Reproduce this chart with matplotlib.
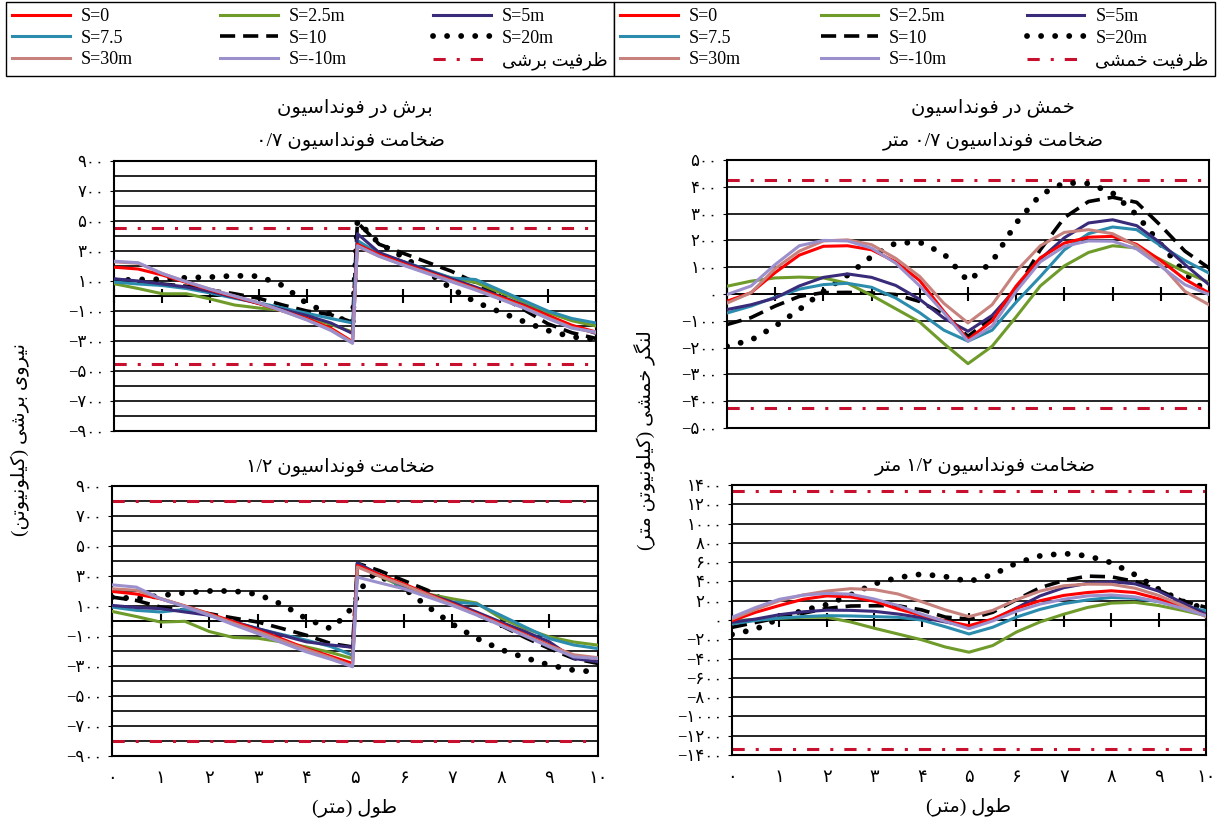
import re
import matplotlib
matplotlib.use('Agg')
import matplotlib.pyplot as plt
from matplotlib.ticker import FuncFormatter

plt.rcParams['font.family'] = ['Liberation Serif', 'DejaVu Sans']

# ---------------- data ----------------
labels = ['S=0', 'S=2.5m', 'S=5m', 'S=7.5', 'S=10', 'S=20m', 'S=30m', 'S=-10m']

x_shear = [0, 0.5, 1, 1.5, 2, 2.5, 3, 3.5, 4, 4.5, 4.95, 5.05, 5.5, 6, 6.5, 7, 7.5, 8, 8.5, 9, 9.5, 10]
x_bend = [0, 0.5, 1, 1.5, 2, 2.5, 3, 3.5, 4, 4.5, 5, 5.5, 6, 6.5, 7, 7.5, 8, 8.5, 9, 9.5, 10]
x_sh12_dot = [0, 0.5, 1, 1.5, 2, 2.5, 3, 3.5, 4, 4.5, 4.75, 4.9, 5.2, 5.4, 6, 6.5, 7, 7.5, 8, 8.5, 9, 9.5, 10]

# shear, foundation 0.7 m
sh07_s0 = [192, 180, 140, 90, 40, -5, -50, -100, -150, -215, -305, 345, 275, 215, 160, 105, 50, -5, -65, -130, -195, -240]
sh07_s25 = [82, 50, 15, 15, -20, -60, -80, -95, -140, -190, -240, 360, 280, 225, 170, 120, 90, 25, -40, -110, -165, -200]
sh07_s5 = [115, 100, 80, 60, 30, -10, -50, -90, -130, -180, -250, 415, 290, 230, 170, 115, 60, 0, -60, -130, -200, -250]
sh07_s75 = [93, 80, 70, 50, 20, -15, -45, -80, -115, -150, -180, 370, 280, 230, 175, 120, 110, 40, -30, -100, -150, -180]
sh07_s10 = [110, 95, 80, 65, 40, 15, -15, -60, -100, -125, -175, 490, 345, 285, 225, 165, 90, 0, -90, -185, -245, -283]
sh07_s20 = [104, 110, 112, 122, 126, 135, 132, 70, -50, -122, -185, 500, 350, 260, 160, 50, -40, -105, -170, -230, -272, -290]
sh07_s30 = [228, 218, 150, 95, 45, 0, -45, -100, -158, -225, -310, 330, 265, 208, 155, 100, 45, -15, -75, -145, -210, -245]
sh07_sm10 = [232, 222, 150, 95, 45, 0, -45, -100, -160, -230, -316, 335, 265, 205, 150, 95, 40, -20, -80, -150, -215, -240]

# shear, foundation 1.2 m
sh12_s0 = [197, 180, 148, 100, 49, -5, -62, -120, -184, -235, -283, 370, 310, 248, 180, 115, 50, -18, -90, -161, -230, -250]
sh12_s25 = [64, 30, -7, -2, -70, -110, -115, -140, -173, -210, -250, 370, 300, 226, 180, 148, 120, 20, -50, -106, -140, -161]
sh12_s5 = [104, 90, 82, 60, 38, -5, -51, -95, -139, -160, -175, 385, 310, 237, 180, 126, 60, -7, -70, -139, -250, -272]
sh12_s75 = [93, 71, 60, 77, 38, -5, -51, -90, -128, -170, -228, 385, 310, 226, 170, 126, 115, 38, -40, -117, -160, -184]
sh12_s10 = [159, 137, 93, 70, 49, 20, -7, -50, -95, -150, -173, 385, 336, 270, 204, 115, 45, -29, -110, -184, -250, -283]
sh12_s20 = [159, 150, 170, 188, 200, 200, 178, 110, 15, -51, 20, 75, 252, 314, 220, 95, -20, -115, -190, -245, -294, -328, -340]
sh12_s30 = [215, 205, 150, 100, 45, -15, -70, -130, -190, -245, -300, 360, 300, 240, 175, 110, 45, -25, -95, -165, -225, -245]
sh12_sm10 = [241, 226, 148, 95, 38, -25, -84, -145, -206, -255, -305, 292, 255, 215, 160, 104, 40, -29, -100, -173, -239, -250]

# bending, foundation 0.7 m
bd07_s0 = [-27, 5, 80, 145, 178, 180, 165, 120, 50, -65, -170, -100, 30, 135, 190, 212, 215, 185, 125, 55, 4]
bd07_s25 = [29, 48, 60, 63, 60, 40, -5, -55, -105, -185, -260, -195, -85, 30, 105, 155, 180, 172, 128, 82, 43]
bd07_s5 = [-58, -40, -15, 30, 62, 75, 62, 32, -20, -90, -139, -80, 20, 130, 210, 265, 277, 255, 190, 110, 35]
bd07_s75 = [-71, -45, -12, 18, 35, 40, 25, -15, -70, -135, -176, -135, -30, 65, 165, 225, 250, 240, 180, 125, 78]
bd07_s10 = [-114, -88, -45, -9, 5, 6, 4, -2, -28, -77, -158, -90, 15, 165, 285, 345, 361, 342, 255, 160, 97]
bd07_s20 = [-195, -172, -120, -58, 10, 70, 140, 190, 193, 150, 48, 120, 265, 370, 415, 412, 377, 295, 185, 78, 0]
bd07_s30 = [-34, 5, 95, 160, 198, 202, 184, 133, 65, -35, -108, -40, 85, 180, 230, 240, 225, 180, 110, 10, -40]
bd07_sm10 = [-2, 30, 110, 180, 200, 198, 171, 115, 30, -70, -176, -120, 10, 120, 178, 198, 197, 168, 103, 35, -2]

# bending, foundation 1.2 m
bd12_s0 = [-7, 80, 150, 215, 250, 240, 195, 114, 50, -10, -59, 10, 120, 200, 255, 285, 303, 285, 220, 130, 45]
bd12_s25 = [-7, 5, 18, 28, 28, -20, -85, -145, -205, -280, -334, -265, -125, -20, 60, 130, 175, 183, 150, 100, 45]
bd12_s5 = [-24, 10, 55, 85, 102, 100, 90, 62, 25, -20, -69, 0, 125, 250, 335, 380, 397, 375, 300, 180, 62]
bd12_s75 = [-41, -5, 20, 35, 45, 42, 35, 28, 0, -70, -145, -75, 30, 110, 170, 208, 234, 225, 190, 140, 97]
bd12_s10 = [-76, -25, 25, 70, 120, 145, 148, 148, 105, 30, 10, 80, 210, 335, 410, 455, 448, 400, 310, 200, 131]
bd12_s20 = [-150, -95, 15, 100, 160, 260, 375, 440, 476, 450, 400, 470, 590, 665, 690, 665, 595, 470, 320, 195, 114]
bd12_s30 = [10, 110, 200, 260, 300, 325, 315, 270, 190, 105, 35, 100, 210, 300, 355, 372, 370, 330, 255, 150, 34]
bd12_sm10 = [28, 130, 215, 258, 276, 268, 218, 150, 60, -15, -90, -10, 90, 165, 215, 250, 260, 240, 190, 120, 45]

# capacities
cap_sh07 = 450
cap_sh12 = 800
cap_bd07 = 425
cap_bd12 = 1340

# ---------------- Persian text helpers ----------------
AR_FORMS = {
    '\u0627': ('\uFE8D', '\uFE8E', None, None),
    '\u0628': ('\uFE8F', '\uFE90', '\uFE91', '\uFE92'),
    '\u062A': ('\uFE95', '\uFE96', '\uFE97', '\uFE98'),
    '\u062E': ('\uFEA5', '\uFEA6', '\uFEA7', '\uFEA8'),
    '\u062F': ('\uFEA9', '\uFEAA', None, None),
    '\u0631': ('\uFEAD', '\uFEAE', None, None),
    '\u0633': ('\uFEB1', '\uFEB2', '\uFEB3', '\uFEB4'),
    '\u0634': ('\uFEB5', '\uFEB6', '\uFEB7', '\uFEB8'),
    '\u0636': ('\uFEBD', '\uFEBE', '\uFEBF', '\uFEC0'),
    '\u0637': ('\uFEC1', '\uFEC2', '\uFEC3', '\uFEC4'),
    '\u0638': ('\uFEC5', '\uFEC6', '\uFEC7', '\uFEC8'),
    '\u0641': ('\uFED1', '\uFED2', '\uFED3', '\uFED4'),
    '\u0644': ('\uFEDD', '\uFEDE', '\uFEDF', '\uFEE0'),
    '\u0645': ('\uFEE1', '\uFEE2', '\uFEE3', '\uFEE4'),
    '\u0646': ('\uFEE5', '\uFEE6', '\uFEE7', '\uFEE8'),
    '\u0648': ('\uFEED', '\uFEEE', None, None),
    '\u06A9': ('\uFB8E', '\uFB8F', '\uFB90', '\uFB91'),
    '\u06AF': ('\uFB92', '\uFB93', '\uFB94', '\uFB95'),
    '\u06CC': ('\uFBFC', '\uFBFD', '\uFBFE', '\uFBFF'),
}
FA_DIG = '۰۱۲۳۴۵۶۷۸۹'


def shape(s):
    out = []
    for i, c in enumerate(s):
        f = AR_FORMS.get(c)
        if f is None:
            out.append(c)
            continue
        prev = s[i - 1] if i > 0 else ''
        nxt = s[i + 1] if i + 1 < len(s) else ''
        jp = prev in AR_FORMS and AR_FORMS[prev][2] is not None
        jn = f[2] is not None and nxt in AR_FORMS
        out.append(f[3] if jp and jn else f[1] if jp else f[2] if jn else f[0])
    return ''.join(out)


def fa(text):
    # shape letters and put a right-to-left line in visual order
    lines = []
    for line in text.split('\n'):
        runs = re.findall('[' + FA_DIG + '/]+|[^' + FA_DIG + '/]+', shape(line))
        vis = []
        for r in reversed(runs):
            if r[0] in FA_DIG + '/':
                vis.append(r)
            else:
                vis.append(r[::-1].translate(str.maketrans('()', ')(')))
        lines.append(''.join(vis))
    return '\n'.join(lines)


def fa_num(v, pos=None):
    return str(int(round(v))).translate(str.maketrans('0123456789-', FA_DIG + '\u2212'))


# ---------------- styles ----------------
STYLE = {
    'S=0': dict(color='#FF0000', lw=2.2),
    'S=2.5m': dict(color='#6E9B2A', lw=2.2),
    'S=5m': dict(color='#3A2A7A', lw=2.2),
    'S=7.5': dict(color='#2B8CAE', lw=2.2),
    'S=10': dict(color='black', lw=2.6, ls=(0, (4.2, 2.2))),
    'S=20m': dict(color='black', lw=4.2, ls=(0, (0.01, 2.4)), dash_capstyle='round'),
    'S=30m': dict(color='#C8827E', lw=2.2),
    'S=-10m': dict(color='#9C90CC', lw=2.2),
}
CAP_STYLE = dict(color='#C8102E', lw=2.2, ls=(0, (4, 3.6, 1, 3.6)))
draw_order = ['S=20m', 'S=10', 'S=2.5m', 'S=7.5', 'S=5m', 'S=0', 'S=30m', 'S=-10m']
legend_order = ['S=0', 'S=7.5', 'S=30m', 'S=2.5m', 'S=10', 'S=-10m', 'S=5m', 'S=20m']

W, H = 1217, 826
fig = plt.figure(figsize=(W / 100, H / 100), dpi=100)
fig.patch.set_facecolor('white')


def add_ax(l, t, r, b):
    return fig.add_axes([l / W, 1 - b / H, (r - l) / W, (b - t) / H])


def ftext(xp, yp, s, **kw):
    fig.text(xp / W, 1 - yp / H, s, ha='center', va='center', **kw)


def panel(ax, x, ys, cap, cap_label, lim, major, minor, show_x, dot_x=None):
    for lab in draw_order:
        xx = dot_x if (lab == 'S=20m' and dot_x is not None) else x
        ax.plot(xx, ys[lab], label=lab, zorder=3, **STYLE[lab])
    ax.axhline(cap, label=cap_label, zorder=2.5, **CAP_STYLE)
    ax.axhline(-cap, zorder=2.5, **CAP_STYLE)
    ax.set_xlim(0, 10)
    ax.set_ylim(-lim, lim)
    ax.set_yticks(major)
    if minor:
        ax.set_yticks(minor, minor=True)
    ax.yaxis.set_major_formatter(FuncFormatter(fa_num))
    ax.grid(True, axis='y', which='both', color='black', lw=1.2)
    ax.set_axisbelow(True)
    ax.set_xticks(range(11))
    ax.xaxis.set_major_formatter(FuncFormatter(fa_num))
    ax.tick_params(axis='x', length=0, labelbottom=show_x, labelsize=13, pad=10)
    ax.tick_params(axis='y', which='major', length=3, labelsize=12, pad=4)
    ax.tick_params(axis='y', which='minor', length=0)
    for sp in ax.spines.values():
        sp.set_linewidth(1.5)
        sp.set_color('black')
    sec = ax.secondary_xaxis(0.5)
    sec.set_xticks(range(11))
    sec.tick_params(direction='inout', length=10, width=1.5, labeltop=False, labelbottom=False)
    sec.spines['top'].set_linewidth(1.2)
    sec.spines['bottom'].set_linewidth(1.2)
    if show_x:
        ax.set_xlabel(fa('طول (متر)'), fontsize=14, labelpad=8)


axA = add_ax(114, 161, 596, 431)
axB = add_ax(112, 486, 598, 756)
axC = add_ax(727, 160, 1209, 428)
axD = add_ax(732, 485, 1206, 755)

shear_major = list(range(-900, 901, 200))
shear_minor = list(range(-800, 801, 200))

panel(axA, x_shear, dict(zip(labels, [sh07_s0, sh07_s25, sh07_s5, sh07_s75, sh07_s10, sh07_s20, sh07_s30, sh07_sm10])),
      cap_sh07, fa('ظرفیت برشی'), 900, shear_major, shear_minor, False)
panel(axB, x_shear, dict(zip(labels, [sh12_s0, sh12_s25, sh12_s5, sh12_s75, sh12_s10, sh12_s20, sh12_s30, sh12_sm10])),
      cap_sh12, fa('ظرفیت برشی'), 900, shear_major, shear_minor, True, dot_x=x_sh12_dot)
panel(axC, x_bend, dict(zip(labels, [bd07_s0, bd07_s25, bd07_s5, bd07_s75, bd07_s10, bd07_s20, bd07_s30, bd07_sm10])),
      cap_bd07, fa('ظرفیت خمشی'), 500, list(range(-500, 501, 100)), None, False)
panel(axD, x_bend, dict(zip(labels, [bd12_s0, bd12_s25, bd12_s5, bd12_s75, bd12_s10, bd12_s20, bd12_s30, bd12_sm10])),
      cap_bd12, fa('ظرفیت خمشی'), 1400, list(range(-1400, 1401, 200)), None, True)

# titles
ftext(355, 108, fa('برش در فونداسیون'), fontsize=14)
ftext(350, 141, fa('ضخامت فونداسیون ۰/۷'), fontsize=14)
ftext(993, 108, fa('خمش در فونداسیون'), fontsize=14)
ftext(993, 141, fa('ضخامت فونداسیون ۰/۷ متر'), fontsize=14)
ftext(340, 467, fa('ضخامت فونداسیون ۱/۲'), fontsize=14)
ftext(985, 466, fa('ضخامت فونداسیون ۱/۲ متر'), fontsize=14)

# y axis labels
ftext(20, 440, fa('نیروی برشی (کیلونیوتن)'), fontsize=14, rotation=90)
ftext(645, 440, fa('لنگر خمشی (کیلونیوتن متر)'), fontsize=14, rotation=90)

# legends
for ax, x0, x1 in [(axA, 6, 614), (axC, 614, 1215)]:
    h, l = ax.get_legend_handles_labels()
    lut = dict(zip(l, h))
    order = legend_order + [l[-1]]
    fig.legend([lut[k] for k in order], order, ncol=3, loc='upper left',
               bbox_to_anchor=(x0 / W, 1 - 10 / H, (x1 - x0) / W, 0.01), mode='expand',
               borderaxespad=0, frameon=True, fancybox=False, edgecolor='black',
               framealpha=1, fontsize=13, handlelength=3.2, handletextpad=0.6,
               labelspacing=0.25, borderpad=0.35)

fig.savefig('out.png', dpi=100)
